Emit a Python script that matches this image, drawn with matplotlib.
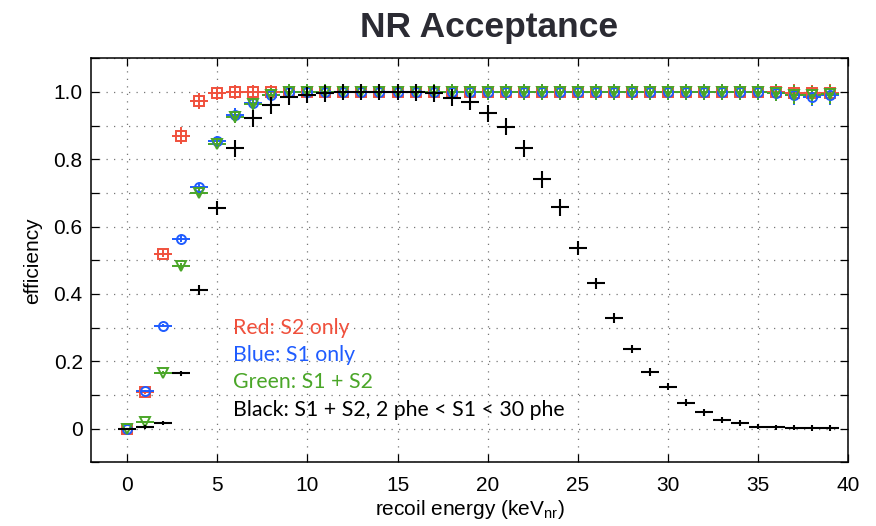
import matplotlib
matplotlib.use("Agg")
import matplotlib.pyplot as plt
import numpy as np
from matplotlib.ticker import MultipleLocator

# recoil energy bins (keVnr), bin half width 0.5
energy = np.arange(0, 40)
bin_half = 0.5

red_eff = [0.0, 0.11, 0.52, 0.87, 0.973, 0.996, 1.0, 1.0, 1.0, 1.0,
           1.0, 1.0, 1.0, 1.0, 1.0, 1.0, 1.0, 1.0, 1.0, 1.0,
           1.0, 1.0, 1.0, 1.0, 1.0, 1.0, 1.0, 1.0, 1.0, 1.0,
           1.0, 1.0, 1.0, 1.0, 1.0, 1.0, 1.0, 0.998, 0.997, 0.998]
red_err = [0.0, 0.006, 0.01, 0.025, 0.025, 0.02, 0.02, 0.02, 0.02, 0.02,
           0.02, 0.02, 0.02, 0.02, 0.02, 0.02, 0.02, 0.02, 0.02, 0.02,
           0.02, 0.02, 0.02, 0.02, 0.02, 0.02, 0.02, 0.02, 0.02, 0.02,
           0.02, 0.02, 0.02, 0.02, 0.02, 0.02, 0.022, 0.025, 0.025, 0.025]

blue_eff = [0.0, 0.112, 0.306, 0.564, 0.717, 0.854, 0.932, 0.966, 0.992, 1.0,
            1.0, 1.0, 1.0, 1.0, 1.0, 1.0, 1.0, 1.0, 1.0, 1.0,
            1.0, 1.0, 1.0, 1.0, 1.0, 1.0, 1.0, 1.0, 1.0, 1.0,
            1.0, 1.0, 1.0, 1.0, 1.0, 1.0, 0.998, 0.99, 0.986, 0.99]
blue_err = [0.0, 0.004, 0.004, 0.01, 0.01, 0.015, 0.02, 0.022, 0.025, 0.025,
            0.025, 0.025, 0.025, 0.025, 0.025, 0.025, 0.025, 0.025, 0.025, 0.025,
            0.025, 0.025, 0.025, 0.025, 0.025, 0.025, 0.025, 0.025, 0.025, 0.025,
            0.025, 0.025, 0.025, 0.025, 0.025, 0.025, 0.025, 0.028, 0.028, 0.028]

green_eff = [0.0, 0.02, 0.166, 0.483, 0.699, 0.846, 0.927, 0.963, 0.992, 1.0,
             1.0, 1.0, 1.0, 1.0, 1.0, 1.0, 1.0, 1.0, 1.0, 1.0,
             1.0, 1.0, 1.0, 1.0, 1.0, 1.0, 1.0, 1.0, 1.0, 1.0,
             1.0, 1.0, 1.0, 1.0, 1.0, 1.0, 0.998, 0.992, 0.99, 0.993]
green_err = [0.0, 0.004, 0.005, 0.01, 0.012, 0.015, 0.02, 0.022, 0.025, 0.025,
             0.025, 0.025, 0.025, 0.025, 0.025, 0.025, 0.025, 0.025, 0.025, 0.025,
             0.025, 0.025, 0.025, 0.025, 0.025, 0.025, 0.025, 0.025, 0.025, 0.025,
             0.025, 0.025, 0.025, 0.025, 0.025, 0.025, 0.025, 0.028, 0.028, 0.028]

black_eff = [0.0, 0.004, 0.016, 0.164, 0.412, 0.655, 0.833, 0.922, 0.96, 0.986,
             0.991, 0.996, 1.0, 1.0, 1.0, 1.0, 0.999, 0.996, 0.983, 0.971,
             0.937, 0.897, 0.833, 0.741, 0.658, 0.537, 0.432, 0.328, 0.237, 0.168,
             0.125, 0.077, 0.049, 0.026, 0.016, 0.006, 0.004, 0.003, 0.002, 0.002]
black_err = [0.0, 0.006, 0.006, 0.008, 0.015, 0.02, 0.025, 0.025, 0.025, 0.025,
             0.025, 0.025, 0.025, 0.025, 0.025, 0.025, 0.025, 0.025, 0.025, 0.025,
             0.025, 0.025, 0.025, 0.025, 0.025, 0.02, 0.016, 0.015, 0.012, 0.012,
             0.011, 0.01, 0.01, 0.009, 0.009, 0.008, 0.008, 0.008, 0.008, 0.008]

legend_lines = ["Red: S2 only", "Blue: S1 only", "Green: S1 + S2",
                "Black: S1 + S2, 2 phe < S1 < 30 phe"]
legend_y = [0.299, 0.219, 0.139, 0.055]

RED = "#f0503c"
BLUE = "#1f5cff"
GREEN = "#4aa628"
BLACK = "#000000"

plt.rcParams["font.family"] = ["Liberation Sans", "DejaVu Sans"]

fig = plt.figure(figsize=(8.76, 5.26), dpi=100)
ax = fig.add_axes([91 / 876, 1 - 462.3 / 526, (848.3 - 91) / 876, (462.3 - 58.3) / 526])

series = [
    (red_eff, red_err, RED, "s"),
    (blue_eff, blue_err, BLUE, "o"),
    (green_eff, green_err, GREEN, "v"),
]
for eff, err, col, mk in series:
    ax.errorbar(energy, eff, yerr=err, xerr=bin_half, fmt=mk, color=col,
                mfc="none", mec=col, ms=6.5, mew=1.4, elinewidth=1.4,
                capsize=0, zorder=3)
ax.errorbar(energy, black_eff, yerr=black_err, xerr=bin_half, fmt="none",
            ecolor=BLACK, elinewidth=1.5, capsize=0, zorder=4)

ax.set_xlim(-2, 40)
ax.set_ylim(-0.1, 1.1)
ax.xaxis.set_major_locator(MultipleLocator(5))
ax.yaxis.set_minor_locator(MultipleLocator(0.1))
ax.set_yticks([0, 0.2, 0.4, 0.6, 0.8, 1.0])
ax.set_yticklabels(["0", "0.2", "0.4", "0.6", "0.8", "1.0"])
ax.tick_params(which="both", direction="in", top=True, right=True,
               length=6, width=0.9)
ax.tick_params(axis="x", labelsize=15, pad=10)
ax.tick_params(axis="y", labelsize=15, pad=6)
ax.grid(True, which="both", linestyle=(0, (1, 5)), color="#777777", linewidth=0.9)
for s in ax.spines.values():
    s.set_linewidth(1.1)

ax.set_xlabel(r"recoil energy (keV$_{\mathregular{nr}}$)", fontsize=15, labelpad=2)
ax.set_ylabel("efficiency", fontsize=15, labelpad=8)

fig.text(489 / 876, 1 - 27 / 526, "NR Acceptance", ha="center", va="center",
         fontsize=25.5, fontweight="bold", color="#2b2b33")

legend_colors = [RED, BLUE, GREEN, BLACK]
for txt, col, ly in zip(legend_lines, legend_colors, legend_y):
    ax.text(5.9, ly, txt, color=col, fontsize=15.3,
            family=["Lato", "DejaVu Sans"], ha="left", va="center", zorder=5)

fig.savefig("out.png", dpi=100)
